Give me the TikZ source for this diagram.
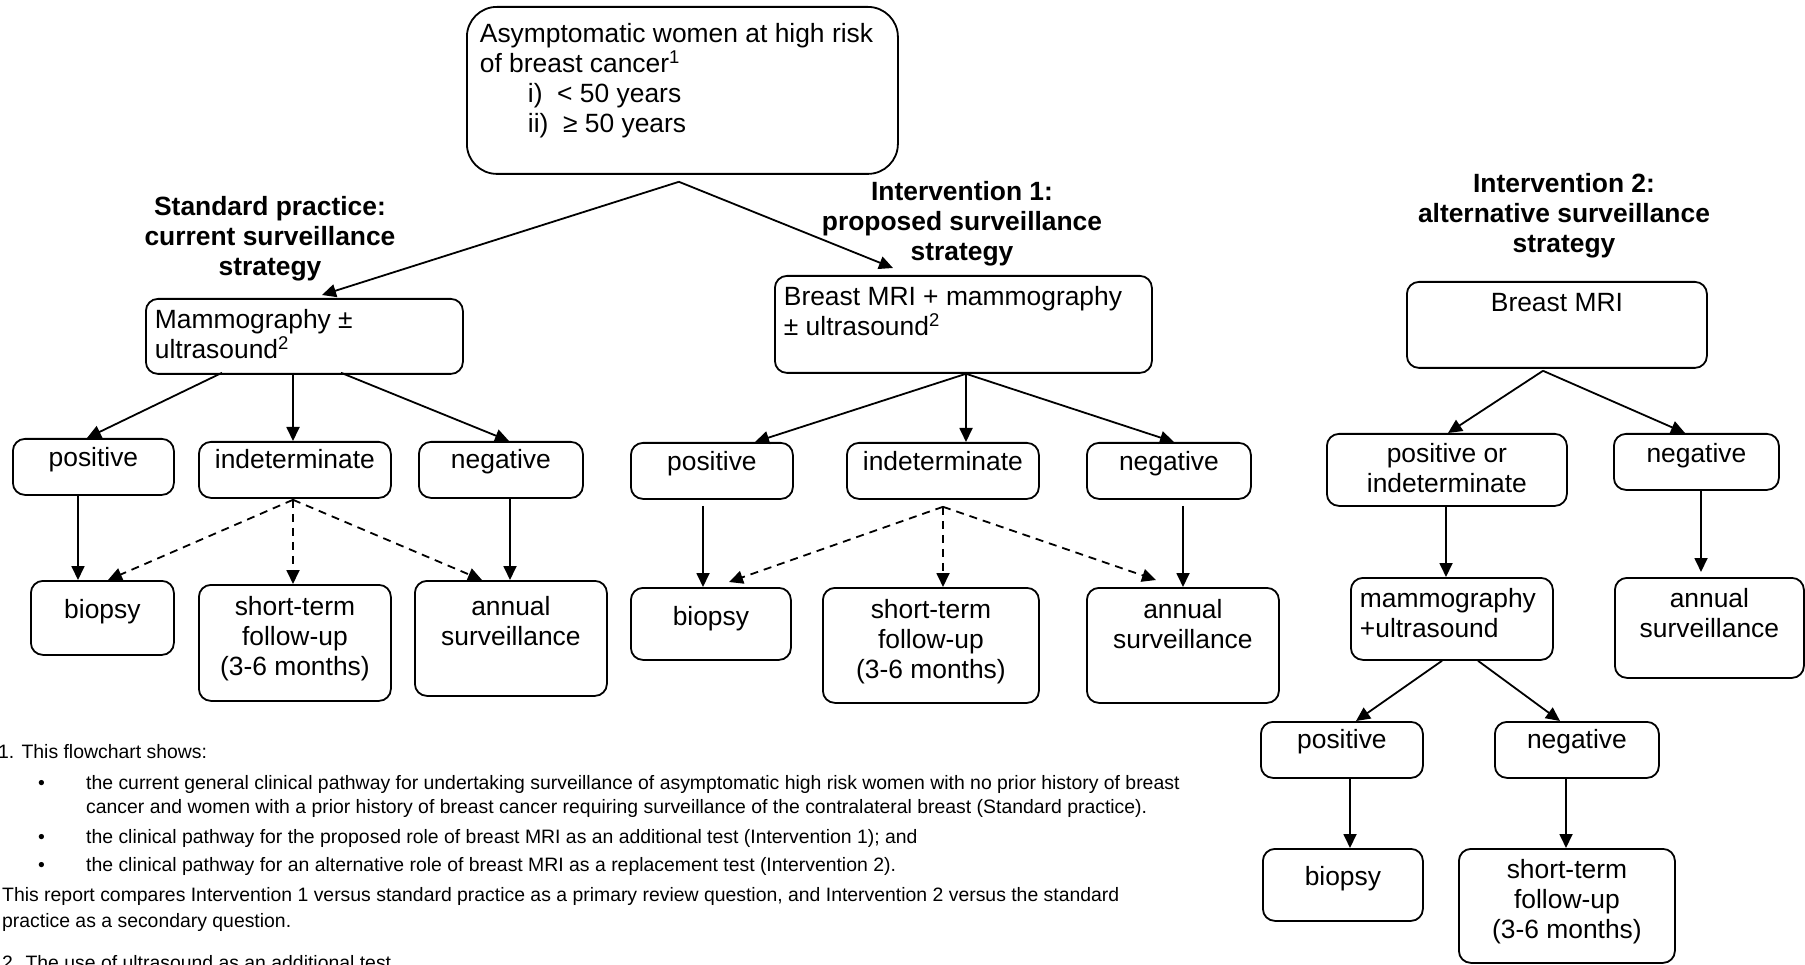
\documentclass[tikz,border=0pt]{standalone}
\usepackage{fontspec}
\setmainfont{Liberation Sans}
\usetikzlibrary{arrows.meta}
\newcommand{\BT}[5]{\parbox[c][#1][t]{#2}{\vspace*{\dimexpr#3-21pt\relax}#4\rule{0pt}{21pt}#5}}
\newcommand{\TL}[1]{\parbox[t]{420pt}{\centering\rule{0pt}{21pt}#1}}
\begin{document}
\begin{tikzpicture}[x=1pt,y=-1pt,
 bx/.style={draw, line width=1.8pt, rounded corners=12pt, inner sep=0pt, anchor=north west, font=\fontsize{26.4pt}{30pt}\selectfont},
 ttl/.style={inner sep=0pt, anchor=north, font=\fontsize{26.4pt}{30pt}\selectfont\bfseries},
 arr/.style={line width=1.8pt, -{Triangle[length=14pt,width=13pt]}},
 darr/.style={arr, dash pattern=on 8pt off 6pt},
 fn/.style={inner sep=0pt, anchor=base west, font=\fontsize{19.4pt}{22pt}\selectfont}]
\fill[white] (0,0) rectangle (1805,965);
\useasboundingbox (0,0) rectangle (1805,965);

% top
\node[bx, rounded corners=30pt] (top) at (466,6) {\BT{167pt}{431pt}{36pt}{\raggedright\leftskip=13pt}{Asymptomatic women at high risk\\of breast cancer\textsuperscript{1}\\\hspace*{48pt}i)~~< 50 years\\\hspace*{48pt}ii)~~≥ 50 years}};

% titles
\node[ttl] (tsp) at (270,194) {\TL{Standard practice:\\current surveillance\\strategy}};
\node[ttl] (ti1) at (962,179) {\TL{Intervention 1:\\proposed surveillance\\strategy}};
\node[ttl] (ti2) at (1564,171) {\TL{Intervention 2:\\alternative surveillance\\strategy}};

% standard practice
\node[bx] (mam) at (145,298) {\BT{75pt}{317pt}{30pt}{\raggedright\leftskip=9pt}{Mammography ±\\ultrasound\textsuperscript{2}}};
\node[bx] (sppos) at (12,438) {\BT{56pt}{161pt}{28pt}{\centering}{positive}};
\node[bx] (spind) at (198,441) {\BT{56pt}{192pt}{27pt}{\centering}{indeterminate}};
\node[bx] (spneg) at (418,441) {\BT{56pt}{164pt}{27pt}{\centering}{negative}};
\node[bx] (spbio) at (30,580) {\BT{74pt}{143pt}{38pt}{\centering}{biopsy}};
\node[bx] (spst) at (198,584) {\BT{116pt}{192pt}{31pt}{\centering}{short-term\\follow-up\\(3-6 months)}};
\node[bx] (spann) at (414,580) {\BT{115pt}{192pt}{35pt}{\centering}{annual\\surveillance}};

% intervention 1
\node[bx] (mri) at (774,275) {\BT{97pt}{377pt}{30pt}{\raggedright\leftskip=9pt}{Breast MRI + mammography\\± ultrasound\textsuperscript{2}}};
\node[bx] (ipos) at (630,442) {\BT{56pt}{162pt}{28pt}{\centering}{positive}};
\node[bx] (iind) at (846,442) {\BT{56pt}{192pt}{28pt}{\centering}{indeterminate}};
\node[bx] (ineg) at (1086,442) {\BT{56pt}{164pt}{28pt}{\centering}{negative}};
\node[bx] (ibio) at (630,587) {\BT{72pt}{160pt}{38pt}{\centering}{biopsy}};
\node[bx] (ist) at (822,587) {\BT{115pt}{216pt}{31pt}{\centering}{short-term\\follow-up\\(3-6 months)}};
\node[bx] (iann) at (1086,587) {\BT{115pt}{192pt}{31pt}{\centering}{annual\\surveillance}};

% intervention 2
\node[bx] (mritwo) at (1406,281) {\BT{86pt}{300pt}{30pt}{\centering}{Breast MRI}};
\node[bx] (jpi) at (1326,433) {\BT{72pt}{240pt}{29pt}{\centering}{positive or\\indeterminate}};
\node[bx] (jneg) at (1613,433) {\BT{56pt}{165pt}{29pt}{\centering}{negative}};
\node[bx] (jmam) at (1350,577) {\BT{82pt}{202pt}{30pt}{\raggedright\leftskip=9pt}{mammography\\+ultrasound}};
\node[bx] (jann) at (1614,577) {\BT{100pt}{189pt}{30pt}{\centering}{annual\\surveillance}};
\node[bx] (jpos) at (1260,721) {\BT{56pt}{162pt}{27pt}{\centering}{positive}};
\node[bx] (jnegb) at (1494,721) {\BT{56pt}{164pt}{27pt}{\centering}{negative}};
\node[bx] (jbio) at (1262,848) {\BT{72pt}{160pt}{37pt}{\centering}{biopsy}};
\node[bx] (jst) at (1458,848) {\BT{114pt}{216pt}{30pt}{\centering}{short-term\\follow-up\\(3-6 months)}};

% connectors from top
\draw[arr] ([xshift=-3.5pt,yshift=-7pt]top.south) -- ([xshift=177pt,yshift=3pt]mam.north west);
\draw[arr] ([xshift=-3.5pt,yshift=-7pt]top.south) -- ([xshift=119pt,yshift=7pt]mri.north west);

% standard connectors
\draw[arr] ([xshift=77pt,yshift=2pt]mam.south west) -- ([xshift=75pt]sppos.north west);
\draw[arr] ([xshift=148pt,yshift=2pt]mam.south west) -- ([xshift=95pt]spind.north west);
\draw[arr] ([xshift=196pt,yshift=2pt]mam.south west) -- ([xshift=91pt]spneg.north west);
\draw[arr] ([xshift=66pt]sppos.south west) -- ([xshift=48pt]spbio.north west);
\draw[darr] ([xshift=95pt,yshift=-1pt]spind.south west) -- ([xshift=78pt]spbio.north west);
\draw[darr] ([xshift=95pt,yshift=-1pt]spind.south west) -- ([xshift=95pt]spst.north west);
\draw[darr] ([xshift=95pt,yshift=-1pt]spind.south west) -- ([xshift=68pt]spann.north west);
\draw[arr] ([xshift=92pt]spneg.south west) -- ([xshift=96pt]spann.north west);

% intervention 1 connectors
\draw[arr] ([xshift=192pt]mri.south west) -- ([xshift=125pt]ipos.north west);
\draw[arr] ([xshift=192pt]mri.south west) -- ([xshift=120pt]iind.north west);
\draw[arr] ([xshift=192pt]mri.south west) -- ([xshift=88pt]ineg.north west);
\draw[arr] ([xshift=73pt,yshift=-6pt]ipos.south west) -- ([xshift=73pt]ibio.north west);
\draw[darr] ([xshift=97pt,yshift=-7pt]iind.south west) -- ([xshift=99pt,yshift=5pt]ibio.north west);
\draw[darr] ([xshift=97pt,yshift=-7pt]iind.south west) -- ([xshift=121pt]ist.north west);
\draw[darr] ([xshift=97pt,yshift=-7pt]iind.south west) -- ([xshift=70pt,yshift=7pt]iann.north west);
\draw[arr] ([xshift=97pt,yshift=-6pt]ineg.south west) -- ([xshift=97pt]iann.north west);

% intervention 2 connectors
\draw[arr] ([xshift=137pt,yshift=-2pt]mritwo.south west) -- ([xshift=122pt]jpi.north west);
\draw[arr] ([xshift=137pt,yshift=-2pt]mritwo.south west) -- ([xshift=72pt]jneg.north west);
\draw[arr] ([xshift=120pt]jpi.south west) -- ([xshift=96pt]jmam.north west);
\draw[arr] ([xshift=88pt]jneg.south west) -- ([xshift=87pt,yshift=5pt]jann.north west);
\draw[arr] ([xshift=92pt]jmam.south west) -- ([xshift=96pt]jpos.north west);
\draw[arr] ([xshift=128pt]jmam.south west) -- ([xshift=66pt]jnegb.north west);
\draw[arr] ([xshift=90pt]jpos.south west) -- ([xshift=88pt]jbio.north west);
\draw[arr] ([xshift=72pt]jnegb.south west) -- ([xshift=108pt]jst.north west);

% footnotes
\node[fn] (fa) at (-2,758) {1. This flowchart shows:};
\node[fn] (ba) at (38,789) {\textbullet};
\node[fn] (fb) at (86,789) {the current general clinical pathway for undertaking surveillance of asymptomatic high risk women with no prior history of breast};
\node[fn] (fc) at (86,813) {cancer and women with a prior history of breast cancer requiring surveillance of the contralateral breast (Standard practice).};
\node[fn] (bb) at (38,843) {\textbullet};
\node[fn] (fd) at (86,843) {the clinical pathway for the proposed role of breast MRI as an additional test (Intervention 1); and};
\node[fn] (bc) at (38,871) {\textbullet};
\node[fn] (fe) at (86,871) {the clinical pathway for an alternative role of breast MRI as a replacement test (Intervention 2).};
\node[fn] (ff) at (2,901) {This report compares Intervention 1 versus standard practice as a primary review question, and Intervention 2 versus the standard};
\node[fn] (fg) at (2,927) {practice as a secondary question.};
\node[fn] (fh) at (2,969) {2. The use of ultrasound as an additional test};
\end{tikzpicture}
\end{document}
